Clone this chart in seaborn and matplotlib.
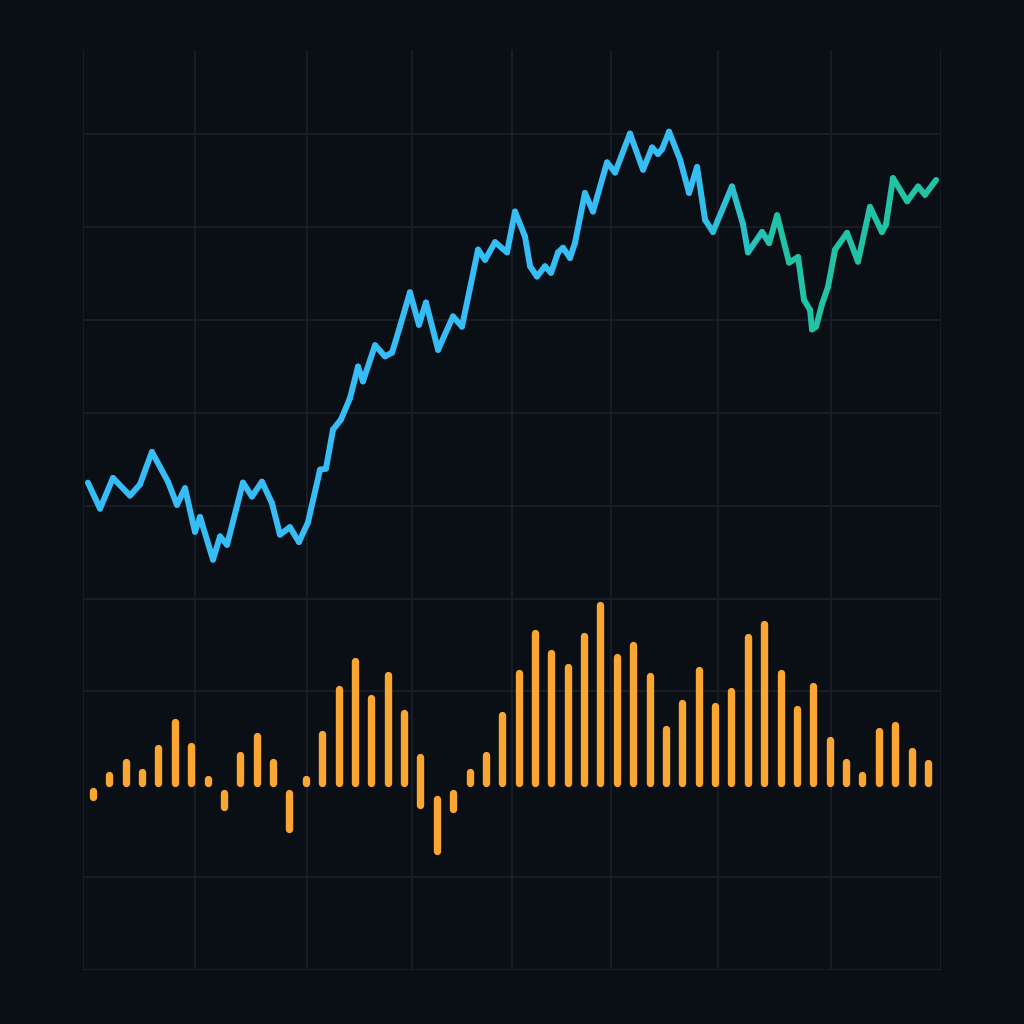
import numpy as np
import pandas as pd
import seaborn as sns
import matplotlib.pyplot as plt
from matplotlib.colors import to_rgb

# price line (day index, price)
days = [-0.31, 0.43, 1.22, 2.26, 2.87, 3.60, 4.58, 5.13, 5.62, 6.23, 6.54, 7.33, 7.76, 8.19,
        9.16, 9.71, 10.32, 10.93, 11.42, 12.03, 12.58, 13.13, 13.87, 14.23, 14.66, 15.15,
        15.70, 16.19, 16.49, 17.23, 17.84, 18.27, 18.75, 19.36, 19.91, 20.34, 21.08, 21.99,
        22.54, 23.52, 23.95, 24.56, 25.29, 25.78, 26.39, 26.70, 27.12, 27.61, 27.98, 28.41,
        28.71, 29.14, 29.44, 30.05, 30.54, 31.40, 31.89, 32.80, 33.60, 34.15, 34.51, 34.76,
        35.19, 35.86, 36.41, 36.90, 37.39, 37.87, 39.03, 39.71, 40.01, 40.87, 41.30, 41.79,
        42.52, 43.07, 43.43, 43.80, 43.92, 44.17, 44.53, 44.90, 45.33, 46.06, 46.73, 47.46,
        48.19, 48.44, 48.87, 49.73, 50.40, 50.82, 51.50]
price = [102.5, 99.7, 103.0, 101.1, 102.3, 105.8, 102.6, 100.1, 101.9, 97.2, 98.8, 94.2, 96.7, 95.8,
         102.5, 101.0, 102.6, 100.3, 96.9, 97.7, 96.1, 98.2, 103.9, 104.0, 108.2, 109.3,
         111.6, 115.0, 113.4, 117.3, 116.1, 116.5, 119.3, 123.0, 119.5, 121.9, 116.8, 120.4,
         119.3, 127.6, 126.5, 128.4, 127.3, 131.7, 129.0, 125.8, 124.7, 125.8, 125.1, 127.3,
         127.8, 126.7, 128.3, 133.7, 131.7, 137.0, 135.9, 140.1, 136.2, 138.6, 137.9, 138.4,
         140.3, 137.3, 133.7, 136.5, 130.8, 129.5, 134.4, 130.3, 127.3, 129.5, 128.3, 131.3,
         126.2, 126.8, 122.2, 121.1, 119.0, 119.3, 121.7, 123.6, 127.6, 129.4, 126.3, 132.2,
         129.5, 130.3, 135.3, 132.8, 134.4, 133.5, 135.1]

# volume-style bars (low / high around zero)
bar_day = list(range(52))
bar_low = [-7.5, 0, 0, 0, 0, 0, 0, 0, -12.9, 0, 0, 0, -24.8, 0, 0, 0, 0, 0, 0, 0,
           -11.9, -36.6, -14.0, 0, 0, 0, 0, 0, 0, 0, 0, 0, 0, 0, 0, 0, 0, 0, 0, 0,
           0, 0, 0, 0, 0, 0, 0, 0, 0, 0, 0, 0]
bar_high = [0, 8.6, 15.6, 10.2, 23.2, 37.2, 24.2, 6.5, -1.0, 19.4, 29.6, 15.6, -1.0, 6.5, 30.7, 55.0, 70.0, 50.1, 62.5, 42.0,
            18.3, -4.3, -1.0, 10.2, 19.4, 40.9, 63.6, 85.1, 74.4, 66.8, 83.5, 100.2, 72.2, 78.7, 62.0, 33.4, 47.4, 65.2, 45.8, 53.9,
            83.0, 90.0, 63.6, 44.2, 56.6, 27.5, 15.6, 8.6, 32.3, 35.6, 21.6, 15.1]

grid_days = [-0.61, 6.23, 13.07, 19.49, 25.60, 31.64, 38.18, 45.08, 51.80]
grid_prices = [50, 60, 80, 90, 100, 110, 120, 130, 140]

bg = '#0a0e15'
grid_col = '#171c25'
blue = '#36bdf6'
teal = '#22c2a5'
orange = '#f9a632'

sns.set_theme(style='darkgrid', rc={'axes.facecolor': bg, 'figure.facecolor': bg,
                                    'grid.color': grid_col, 'grid.linewidth': 1.5,
                                    'axes.edgecolor': bg})

fig = plt.figure(figsize=(10.24, 10.24), dpi=100)
ax = fig.add_axes([83 / 1024, 54 / 1024, 858 / 1024, 920 / 1024])
ax.set_xlim(-0.61, 51.80)
ax.set_ylim(50, 149.1)
ax.set_xticks(grid_days)
ax.set_yticks(grid_prices)
ax.set_xticklabels([])
ax.set_yticklabels([])
ax.tick_params(length=0)
for s in ax.spines.values():
    s.set_visible(False)

# gradient line: one hue per segment
rows = []
pal = {}
c1, c2 = np.array(to_rgb(blue)), np.array(to_rgb(teal))
for i in range(len(days) - 1):
    mid = (days[i] + days[i + 1]) / 2
    t = np.clip((mid - 36.5) / (42.0 - 36.5), 0, 1)
    pal[i] = tuple(c1 * (1 - t) + c2 * t)
    rows.append((days[i], price[i], i))
    rows.append((days[i + 1], price[i + 1], i))
seg = pd.DataFrame(rows, columns=['day', 'price', 'seg'])
sns.lineplot(data=seg, x='day', y='price', hue='seg', palette=pal, legend=False,
             estimator=None, sort=False, linewidth=4.3, ax=ax,
             solid_capstyle='round', solid_joinstyle='round')
ax.set_xlabel('')
ax.set_ylabel('')

# bars on a second scale, rounded ends
axb = ax.twinx()
axb.set_ylim(-98.6, 397.1)
axb.grid(False)
axb.set_yticks([])
axb.tick_params(length=0)
for s in axb.spines.values():
    s.set_visible(False)
r = 1.97
lo = []
hi = []
for a, b in zip(bar_low, bar_high):
    a2, b2 = a + r, b - r
    if a2 > b2:
        a2 = b2 = (a + b) / 2
    lo.append(a2)
    hi.append(b2)
axb.vlines(bar_day, lo, hi, colors=orange, linewidth=5.3, capstyle='round')

fig.savefig('out.png', dpi=100, facecolor=bg)
